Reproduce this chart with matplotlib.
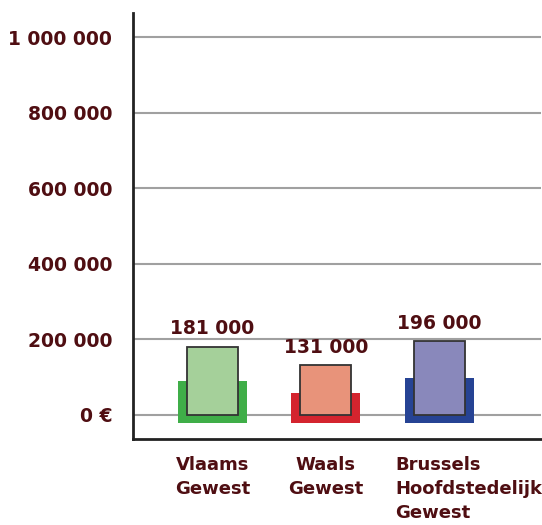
import matplotlib.pyplot as plt

# data
regions = ["Vlaams\nGewest", "Waals\nGewest", "Brussels\nHoofdstedelijk\nGewest"]
values = [181000, 131000, 196000]
value_labels = ["181 000", "131 000", "196 000"]
shadow_tops = [90000, 58000, 98000]
shadow_base = -21000
ticks = [0, 200000, 400000, 600000, 800000, 1000000]
tick_labels = ["0 €", "200 000", "400 000", "600 000", "800 000", "1 000 000"]

light_colors = ["#a5d09a", "#e8937a", "#8988bb"]
dark_colors = ["#3fae48", "#d4242e", "#264394"]
text_color = "#4f0e12"

fig = plt.figure(figsize=(5.42, 5.25), dpi=100)
ax = fig.add_axes([133 / 542, 86 / 525, 408 / 542, 426 / 525])

x = list(range(len(values)))

# darker "shadow" block behind each bar
ax.bar(x, [t - shadow_base for t in shadow_tops], bottom=shadow_base, width=0.61,
       color=dark_colors, zorder=2)
# light front bar
ax.bar(x, values, width=0.45, color=light_colors, edgecolor="#333333",
       linewidth=1.3, zorder=3)

for xi, v, lab in zip(x, values, value_labels):
    ax.text(xi, v + 22000, lab, ha="center", va="bottom", fontsize=13.5,
            fontweight="bold", color=text_color)

ax.set_xlim(-0.702, 2.90)
ax.set_ylim(-63500, 1063500)
ax.set_yticks(ticks)
ax.set_yticklabels(tick_labels, fontsize=13.5, fontweight="bold", color=text_color)
ax.tick_params(axis="y", length=0, pad=15)
ax.set_xticks([])
ax.yaxis.grid(True, color="#a0a0a0", linewidth=1.5, zorder=0)
ax.set_axisbelow(True)

for s in ["top", "right"]:
    ax.spines[s].set_visible(False)
ax.spines["left"].set_linewidth(2)
ax.spines["bottom"].set_linewidth(2)
ax.spines["left"].set_color("#222222")
ax.spines["bottom"].set_color("#222222")

# category labels below the axis
for xi, name in zip(x, regions):
    if xi == 2:
        ax.text(xi - 0.39, -0.04, name, transform=ax.get_xaxis_transform(),
                ha="left", va="top", fontsize=13, fontweight="bold",
                color=text_color, linespacing=1.42)
    else:
        ax.text(xi, -0.04, name, transform=ax.get_xaxis_transform(),
                ha="center", va="top", fontsize=13, fontweight="bold",
                color=text_color, linespacing=1.42, multialignment="center")

fig.savefig("out.png", dpi=100)
